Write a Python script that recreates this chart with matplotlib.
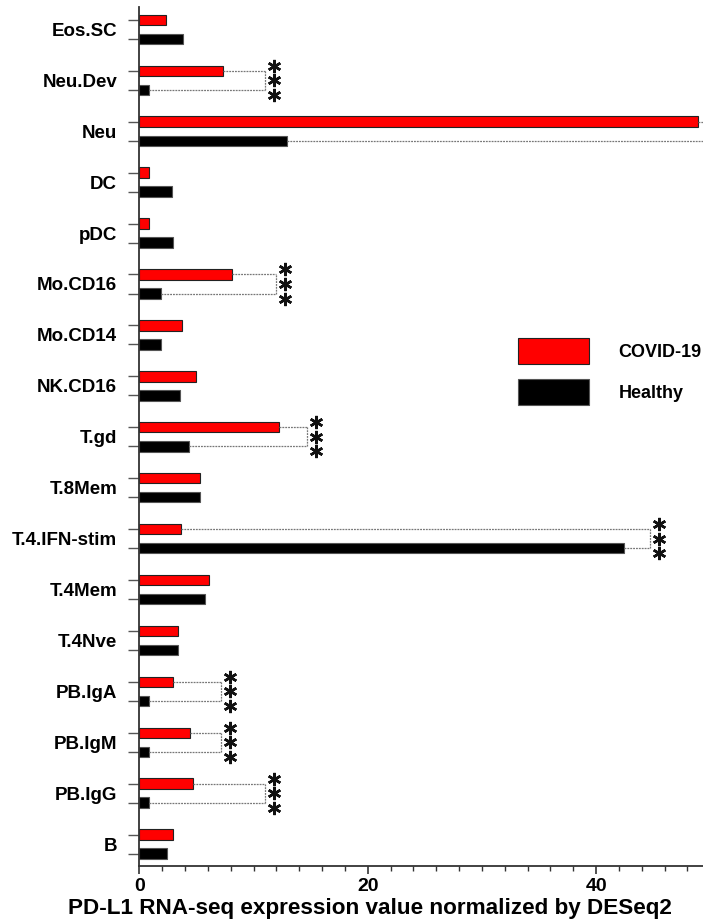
import matplotlib
matplotlib.use("Agg")
import matplotlib.pyplot as plt
import numpy as np

plt.rcParams['font.family'] = ['Liberation Sans', 'DejaVu Sans']
plt.rcParams['font.weight'] = 'bold'

categories = ["Eos.SC", "Neu.Dev", "Neu", "DC", "pDC", "Mo.CD16", "Mo.CD14",
              "NK.CD16", "T.gd", "T.8Mem", "T.4.IFN-stim", "T.4Mem", "T.4Nve",
              "PB.IgA", "PB.IgM", "PB.IgG", "B"]
covid = [2.3, 7.36, 48.9, 0.88, 0.88, 8.15, 3.71, 4.96, 12.23, 5.34, 3.65,
         6.13, 3.39, 2.95, 4.44, 4.7, 2.92]
healthy = [3.85, 0.88, 12.9, 2.9, 2.95, 1.87, 1.87, 3.56, 4.38, 5.32, 42.47,
           5.75, 3.4, 0.88, 0.88, 0.88, 2.43]
# significance brackets: category -> bracket x position
sig_bracket = {"Neu.Dev": 11.0, "Neu": 52.0, "Mo.CD16": 12.0, "T.gd": 14.7,
               "T.4.IFN-stim": 44.7, "PB.IgA": 7.13, "PB.IgM": 7.13,
               "PB.IgG": 11.0}
xticks = [0, 20, 40]

fig = plt.figure(figsize=(7.03, 9.22), dpi=100)
ax_w_px = 50 * 11.42
ax = fig.add_axes([139.3 / 703, 56 / 922, ax_w_px / 703, 859 / 922])

n = len(categories)
centers = np.arange(n)[::-1].astype(float)
off = 0.187
h = 0.206
y_red = centers + off
y_blk = centers - off

ax.barh(y_red, covid, height=h, color='#ff0000', edgecolor='#222222',
        linewidth=0.8, label='COVID-19')
ax.barh(y_blk, healthy, height=h, color='#000000', edgecolor='#555555',
        linewidth=0.8, label='Healthy')

for i, cat in enumerate(categories):
    if cat not in sig_bracket:
        continue
    bx = sig_bracket[cat]
    ls = (0, (1.5, 0.8))
    kw = dict(color='#777777', lw=0.9, ls=ls, clip_on=True, zorder=1)
    ax.plot([covid[i], bx], [y_red[i], y_red[i]], **kw)
    ax.plot([healthy[i], bx], [y_blk[i], y_blk[i]], **kw)
    ax.plot([bx, bx], [y_blk[i], y_red[i]], **kw)
    sx = bx + 0.8
    for dy in (0.285, 0.0, -0.285):
        ax.plot([sx], [centers[i] + dy], marker=(6, 2, 0), markersize=9.5,
                markeredgewidth=1.8, color='#111111', clip_on=False)

ax.set_xlim(0, 50)
ax.set_ylim(-0.43, n - 1 + 0.44)

ax.set_xticks(xticks)
ax.set_xticklabels([str(t) for t in xticks], fontsize=14, fontweight='bold')
ax.set_xticks(np.arange(0, 51, 2), minor=True)
ax.tick_params(axis='x', which='major', length=6, width=1.2, color='#333333', pad=2.5)
ax.tick_params(axis='x', which='minor', length=3.5, width=1.0, color='#333333')

ax.set_yticks(np.concatenate([y_red, y_blk]))
ax.set_yticklabels([])
ax.tick_params(axis='y', which='major', length=8, width=1.0, color='#555555')
ax.set_yticks(centers, minor=True)
ax.set_yticklabels(categories, minor=True, fontsize=13.5, fontweight='bold')
ax.tick_params(axis='y', which='minor', length=0, pad=16)

for s in ('top', 'right'):
    ax.spines[s].set_visible(False)
for s in ('left', 'bottom'):
    ax.spines[s].set_linewidth(1.3)
    ax.spines[s].set_color('#333333')

ax.set_xlabel("PD-L1 RNA-seq expression value normalized by DESeq2",
              fontsize=16.2, fontweight='bold')
ax.xaxis.label.set_verticalalignment('center')
ax.xaxis.set_label_coords((369.5 - 139.3) / ax_w_px, (866 - 908.5) / 859)

leg = ax.legend(loc='upper left', bbox_to_anchor=(518.3 / 703, 1 - 337.7 / 922),
                bbox_transform=fig.transFigure, frameon=False, fontsize=13,
                handlelength=3.9, handleheight=1.9, labelspacing=0.78,
                handletextpad=1.66, borderpad=0, borderaxespad=0)
for t in leg.get_texts():
    t.set_fontweight('bold')

fig.savefig("out.png", dpi=100)
